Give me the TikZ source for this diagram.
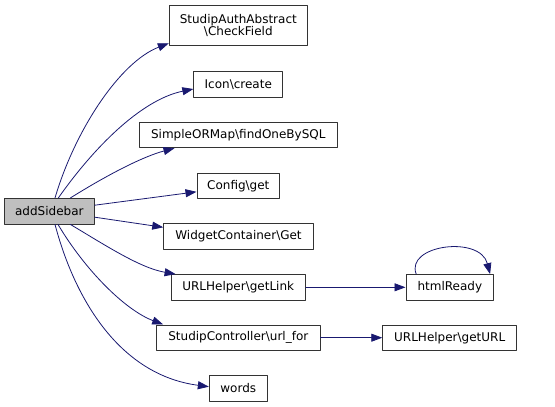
\documentclass[tikz,border=0pt]{standalone}
\usepackage{fontspec}
\setmainfont{DejaVu Sans}
\usepackage{tikz}
\usetikzlibrary{arrows.meta}

\definecolor{edgeblue}{HTML}{191970}
\definecolor{boxline}{HTML}{333333}
\definecolor{curfill}{HTML}{BFBFBF}

\begin{document}
\begin{tikzpicture}[
						x=1pt, y=-1pt,
						every node/.style={font=\fontsize{12}{14}\selectfont},
						fn/.style={draw=boxline, line width=0.9pt, fill=white, inner sep=0pt, minimum height=25.5pt, align=center},
						call/.style={draw=edgeblue, line width=0.8pt, -{Triangle[length=11pt,width=8pt]}},
						line cap=round,
						line join=round
						]
						
						\useasboundingbox (0,0) rectangle (555,407);
						
						% the function itself
						\node[fn, fill=curfill, minimum width=90pt] (sidebar) at (49.3,211.2) {addSidebar};
						
						% callees
						\node[fn, minimum width=138pt, minimum height=40pt] (checkfield) at (238.3,25.8) {StudipAuthAbstract\\[-2pt]\textbackslash CheckField};
						\node[fn, minimum width=89pt] (iconcreate) at (238.3,84.5) {Icon\textbackslash create};
						\node[fn, minimum width=198.7pt] (findone) at (238.3,135) {SimpleORMap\textbackslash findOneBySQL};
						\node[fn, minimum width=82.7pt] (configget) at (238.3,185.8) {Config\textbackslash get};
						\node[fn, minimum width=149.6pt] (widgetget) at (238.5,236.3) {WidgetContainer\textbackslash Get};
						\node[fn, minimum width=134.3pt] (getlink) at (238.2,287.3) {URLHelper\textbackslash getLink};
						\node[fn, minimum width=163.3pt] (urlfor) at (238.3,337.7) {StudipController\textbackslash url\_for};
						\node[fn, minimum width=58pt] (words) at (238.3,388.3) {words};
						
						% second level
						\node[fn, minimum width=87.7pt] (htmlready) at (449.8,287.3) {htmlReady};
						\node[fn, minimum width=134pt] (geturl) at (449.7,337.7) {URLHelper\textbackslash getURL};
						
						% calls from addSidebar
						\draw[call] ([xshift=5.7pt]sidebar.north) .. controls (75,130) and (120,62) .. ([yshift=3pt]checkfield.south west);
						\draw[call] ([xshift=9pt]sidebar.north) .. controls (92,150) and (140,100) .. ([yshift=-4.5pt]iconcreate.west);
						\draw[call] ([xshift=21pt]sidebar.north) .. controls (112,172) and (145,156) .. ([xshift=36pt]findone.south west);
						\draw[call] ([yshift=6pt]sidebar.east) -- ([yshift=-6pt]configget.west);
						\draw[call] ([yshift=-6pt]sidebar.east) -- ([yshift=9pt]widgetget.west);
						\draw[call] ([xshift=21pt]sidebar.south) .. controls (105,245) and (140,268) .. ([xshift=5pt]getlink.north west);
						\draw[call] ([xshift=8.7pt]sidebar.south) .. controls (85,270) and (125,310) .. ([xshift=7pt]urlfor.north west);
						\draw[call] ([xshift=5.7pt]sidebar.south) .. controls (75,300) and (120,375) .. ([yshift=1.6pt]words.west);
						
						% further calls
						\draw[call] (getlink) -- (htmlready);
						\draw[call] (urlfor) -- (geturl);
						\draw[call] ([xshift=10.7pt]htmlready.north west) .. controls (405,245) and (480,235) .. ([xshift=-4pt]htmlready.north east);
						
					\end{tikzpicture}
\end{document}
